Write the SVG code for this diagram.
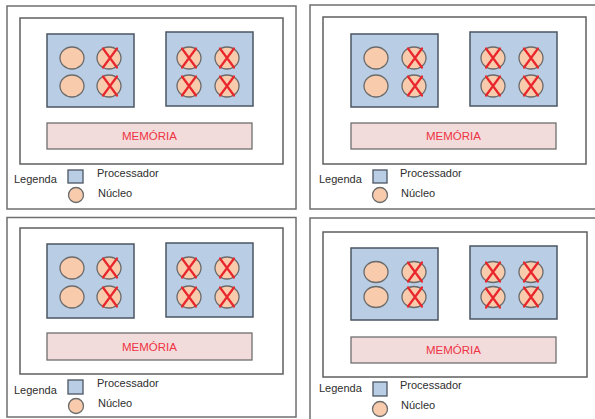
<svg xmlns="http://www.w3.org/2000/svg" width="595" height="419" viewBox="0 0 595 419">
<defs>
<style>
.outer{fill:#ffffff;stroke:#6f6f6f;stroke-width:1.5}
.inner{fill:#ffffff;stroke:#5f5f5f;stroke-width:1.5}
.proc{fill:#b9cde5;stroke:#4b5563;stroke-width:1.5}
.core{fill:#f8cbad;stroke:#6b6b6b;stroke-width:1.3}
.x{stroke:#e8262b;stroke-width:2.2;fill:none;stroke-linecap:round}
.mem{fill:#f2dcdb;stroke:#6f6f6f;stroke-width:1.3}
.memt{font-family:"Liberation Sans",Arial,sans-serif;font-size:11.5px;fill:#ee3344;text-anchor:middle}
.lt{font-family:"Liberation Sans",Arial,sans-serif;font-size:11px;fill:#2e2e2e}
.lsq{fill:#b9cde5;stroke:#4b5563;stroke-width:1.3}
</style>
<g id="xmark"><path class="x" d="M-7,-9.5 L7,9.5 M7,-9.5 L-7,9.5"/></g>
</defs>
<rect width="595" height="419" fill="#ffffff"/>

<!-- Panel 1 -->
<g id="panel1">
<rect class="outer" x="7" y="6" width="289" height="203"/>
<rect class="inner" x="20" y="18" width="263" height="146"/>
<g id="p1-proc1">
<rect class="proc" x="47" y="34" width="87" height="73"/>
<ellipse class="core" cx="72" cy="58" rx="12" ry="11"/>
<ellipse class="core" cx="72" cy="86" rx="12" ry="11"/>
<ellipse class="core" cx="109" cy="58" rx="12" ry="11"/>
<ellipse class="core" cx="109" cy="86" rx="12" ry="11"/>
<use href="#xmark" x="110" y="58"/><use href="#xmark" x="110" y="86"/>
</g>
<g id="p1-proc2">
<rect class="proc" x="166" y="32" width="87" height="74"/>
<ellipse class="core" cx="189" cy="58" rx="12" ry="11"/>
<ellipse class="core" cx="189" cy="86" rx="12" ry="11"/>
<ellipse class="core" cx="227" cy="58" rx="12" ry="11"/>
<ellipse class="core" cx="227" cy="86" rx="12" ry="11"/>
<use href="#xmark" x="189" y="58"/><use href="#xmark" x="189" y="86"/>
<use href="#xmark" x="227" y="58"/><use href="#xmark" x="227" y="86"/>
</g>
<g id="p1-mem">
<rect class="mem" x="47" y="123" width="205" height="26"/>
<text class="memt" x="149.5" y="140">MEMÓRIA</text>
</g>
<g id="p1-legend">
<text class="lt" x="14" y="183">Legenda</text>
<rect class="lsq" x="68" y="170" width="15" height="13"/>
<ellipse class="core" cx="76" cy="195" rx="7.5" ry="7.5"/>
<text class="lt" x="97" y="177">Processador</text>
<text class="lt" x="98" y="197">Núcleo</text>
</g>
</g>

<!-- Panel 2 -->
<g id="panel2">
<rect class="outer" x="310" y="5" width="295" height="204"/>
<rect class="inner" x="323" y="17" width="263" height="147"/>
<g id="p2-proc1">
<rect class="proc" x="351" y="34" width="87" height="73"/>
<ellipse class="core" cx="376" cy="58" rx="12" ry="11"/>
<ellipse class="core" cx="376" cy="86" rx="12" ry="11"/>
<ellipse class="core" cx="414" cy="58" rx="12" ry="11"/>
<ellipse class="core" cx="414" cy="86" rx="12" ry="11"/>
<use href="#xmark" x="415" y="58"/><use href="#xmark" x="415" y="86"/>
</g>
<g id="p2-proc2">
<rect class="proc" x="470" y="32" width="87" height="74"/>
<ellipse class="core" cx="493" cy="58" rx="12" ry="11"/>
<ellipse class="core" cx="493" cy="86" rx="12" ry="11"/>
<ellipse class="core" cx="531" cy="58" rx="12" ry="11"/>
<ellipse class="core" cx="531" cy="86" rx="12" ry="11"/>
<use href="#xmark" x="493" y="58"/><use href="#xmark" x="493" y="86"/>
<use href="#xmark" x="531" y="58"/><use href="#xmark" x="531" y="86"/>
</g>
<g id="p2-mem">
<rect class="mem" x="351" y="123" width="205" height="26"/>
<text class="memt" x="453.5" y="140">MEMÓRIA</text>
</g>
<g id="p2-legend">
<text class="lt" x="319" y="183">Legenda</text>
<rect class="lsq" x="373" y="170" width="14" height="13"/>
<ellipse class="core" cx="380" cy="195" rx="7.5" ry="7.5"/>
<text class="lt" x="400" y="177">Processador</text>
<text class="lt" x="401" y="197">Núcleo</text>
</g>
</g>

<!-- Panel 3 -->
<g id="panel3">
<rect class="outer" x="7" y="217.5" width="289" height="199.5"/>
<rect class="inner" x="20" y="228" width="263" height="146"/>
<g id="p3-proc1">
<rect class="proc" x="47" y="244" width="87" height="74"/>
<ellipse class="core" cx="72" cy="268" rx="12" ry="11"/>
<ellipse class="core" cx="72" cy="297" rx="12" ry="11"/>
<ellipse class="core" cx="109" cy="268" rx="12" ry="11"/>
<ellipse class="core" cx="109" cy="297" rx="12" ry="11"/>
<use href="#xmark" x="110" y="268"/><use href="#xmark" x="110" y="297"/>
</g>
<g id="p3-proc2">
<rect class="proc" x="166" y="243" width="87" height="74"/>
<ellipse class="core" cx="189" cy="268" rx="12" ry="11"/>
<ellipse class="core" cx="189" cy="297" rx="12" ry="11"/>
<ellipse class="core" cx="227" cy="268" rx="12" ry="11"/>
<ellipse class="core" cx="227" cy="297" rx="12" ry="11"/>
<use href="#xmark" x="189" y="268"/><use href="#xmark" x="189" y="297"/>
<use href="#xmark" x="227" y="268"/><use href="#xmark" x="227" y="297"/>
</g>
<g id="p3-mem">
<rect class="mem" x="47" y="333" width="205" height="27"/>
<text class="memt" x="149.5" y="350.5">MEMÓRIA</text>
</g>
<g id="p3-legend">
<text class="lt" x="14" y="394">Legenda</text>
<rect class="lsq" x="68" y="380" width="15" height="14"/>
<ellipse class="core" cx="76" cy="406" rx="7.5" ry="7.5"/>
<text class="lt" x="97" y="387">Processador</text>
<text class="lt" x="98" y="407">Núcleo</text>
</g>
</g>

<!-- Panel 4 -->
<g id="panel4">
<rect class="outer" x="310" y="218" width="295" height="210"/>
<rect class="inner" x="323" y="232" width="264" height="145"/>
<g id="p4-proc1">
<rect class="proc" x="351" y="248" width="87" height="72"/>
<ellipse class="core" cx="376" cy="272" rx="12" ry="10.5"/>
<ellipse class="core" cx="376" cy="297" rx="12" ry="10.5"/>
<ellipse class="core" cx="414" cy="272" rx="12" ry="10.5"/>
<ellipse class="core" cx="414" cy="297" rx="12" ry="10.5"/>
<use href="#xmark" x="415" y="272"/><use href="#xmark" x="415" y="297"/>
</g>
<g id="p4-proc2">
<rect class="proc" x="470" y="246" width="87" height="73"/>
<ellipse class="core" cx="493" cy="272" rx="12" ry="10.5"/>
<ellipse class="core" cx="493" cy="297" rx="12" ry="10.5"/>
<ellipse class="core" cx="531" cy="272" rx="12" ry="10.5"/>
<ellipse class="core" cx="531" cy="297" rx="12" ry="10.5"/>
<use href="#xmark" x="493" y="272"/><use href="#xmark" x="493" y="298"/>
<use href="#xmark" x="531" y="272"/><use href="#xmark" x="531" y="297"/>
</g>
<g id="p4-mem">
<rect class="mem" x="351" y="337" width="205" height="26"/>
<text class="memt" x="453.5" y="353.5">MEMÓRIA</text>
</g>
<g id="p4-legend">
<text class="lt" x="319" y="392">Legenda</text>
<rect class="lsq" x="373" y="382" width="14" height="14"/>
<ellipse class="core" cx="380" cy="409" rx="7.5" ry="7.5"/>
<text class="lt" x="400" y="389">Processador</text>
<text class="lt" x="401" y="409">Núcleo</text>
</g>
</g>
</svg>
